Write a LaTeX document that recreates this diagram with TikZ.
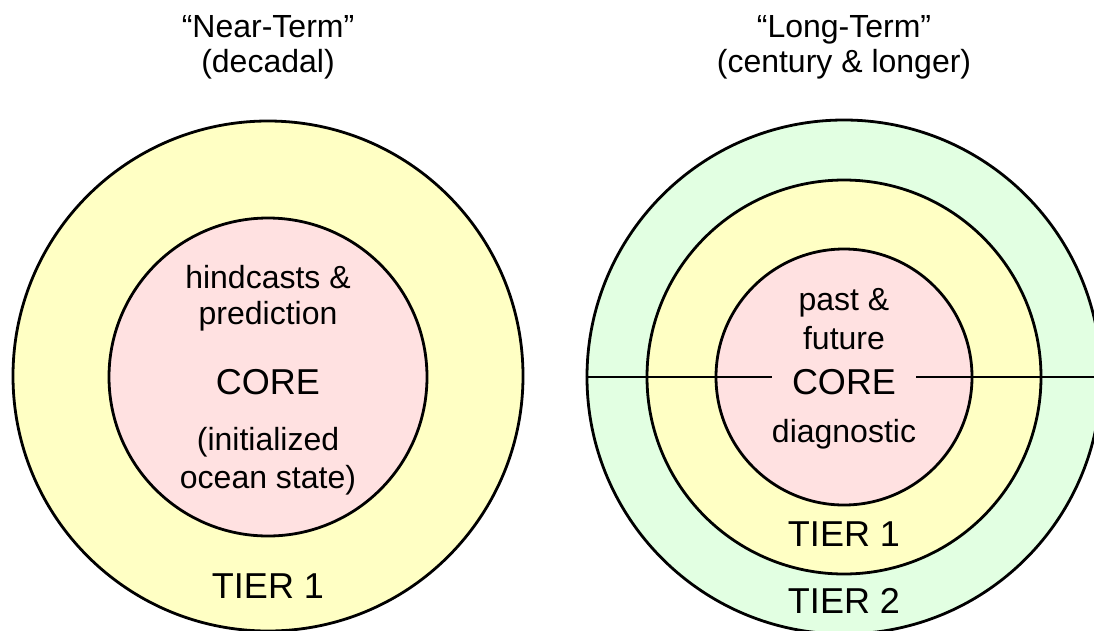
\documentclass[tikz,border=0pt]{standalone}
\usepackage{fontspec}
\setmainfont{Liberation Sans}
\usetikzlibrary{positioning}
\definecolor{tierone}{HTML}{FFFFC4}
\definecolor{tiertwo}{HTML}{E2FFE2}
\definecolor{corepink}{HTML}{FFE1E1}

\begin{document}
\begin{tikzpicture}[x=1pt,y=-1pt,
  ring/.style={circle,draw,line width=2.8pt,inner sep=0pt},
  big/.style={font=\fontsize{36}{40}\selectfont,anchor=base,inner sep=0pt},
  small/.style={font=\fontsize{32}{37}\selectfont,anchor=base,inner sep=0pt}]
\useasboundingbox (0,0) rectangle (1094,630);
\clip (0,0) rectangle (1094,630);
% near-term rings
\node[ring,fill=tierone,minimum size=510pt] (nearOut) at (268,376) {};
\node[ring,fill=corepink,minimum size=318pt] (nearCore) at (268,377) {};
% long-term rings
\node[ring,fill=tiertwo,minimum size=514pt] (longOut) at (844,377) {};
\node[ring,fill=tierone,minimum size=394pt] (longMid) at (844,377) {};
\node[ring,fill=corepink,minimum size=256pt] (longCore) at (844,377) {};
\node[big,inner xsep=20pt] (longCoreTxt) at (844,394) {CORE};
\draw[line width=2.8pt] (longOut.west) -- (longOut.west -| longCoreTxt.west);
\draw[line width=2.8pt] (longCoreTxt.east |- longOut.east) -- (longOut.east);
% titles
\node[small] (nearTitle) at (268,37) {“Near-Term”};
\node[small] (nearSub) at (268,72) {(decadal)};
\node[small] (longTitle) at (844,37) {“Long-Term”};
\node[small] (longSub) at (844,72) {(century \& longer)};
% near-term labels
\node[small] (nearHind) at (268,288) {hindcasts \&};
\node[small] (nearPred) at (268,324) {prediction};
\node[big] (nearCoreTxt) at (268,394) {CORE};
\node[small] (nearInit) at (268,450) {(initialized};
\node[small] (nearOcean) at (268,488) {ocean state)};
\node[big] (nearTier) at (268,598) {TIER 1};
% long-term labels
\node[small] (longPast) at (844,310) {past \&};
\node[small] (longFut) at (844,349) {future};
\node[small] (longDiag) at (844,442) {diagnostic};
\node[big] (longTierA) at (844,546) {TIER 1};
\node[big] (longTierB) at (844,613) {TIER 2};
\end{tikzpicture}
\end{document}
